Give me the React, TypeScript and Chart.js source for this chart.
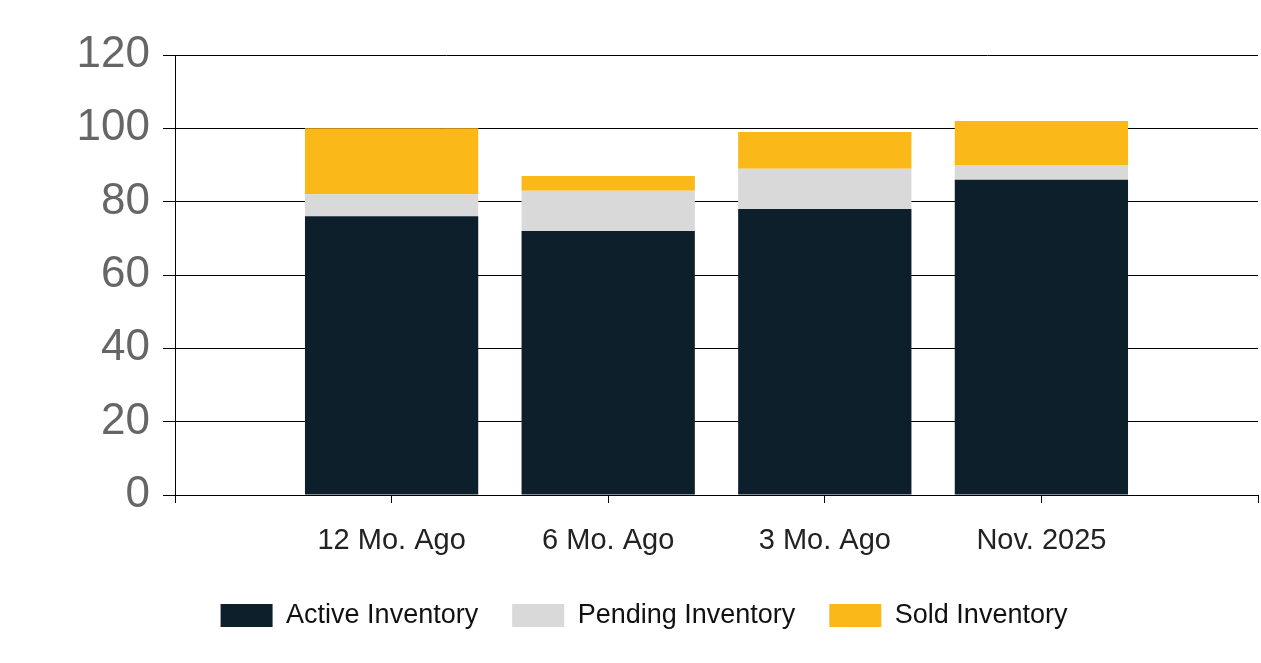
import React, { useEffect, useRef } from "react";
import { Chart, registerables } from "chart.js";

Chart.register(...registerables);

const categories = ["12 Mo. Ago", "6 Mo. Ago", "3 Mo. Ago", "Nov. 2025"];
const activeInventory = [76, 72, 78, 86];
const pendingInventory = [6, 11, 11, 4];
const soldInventory = [18, 4, 10, 12];
const yTicks = [0, 20, 40, 60, 80, 100, 120];

const FONT = "'Liberation Sans', Arial, sans-serif";

export default function App() {
  const ref = useRef<HTMLCanvasElement | null>(null);

  useEffect(() => {
    if (!ref.current) return;
    const pad = (arr: number[]) => [null, ...arr, null];
    const labels = ["", ...categories, ""];
    const chart = new Chart(ref.current, {
      type: "bar",
      data: {
        labels,
        datasets: [
          { label: "Active Inventory", data: pad(activeInventory), backgroundColor: "#0C1F2B" },
          { label: "Pending Inventory", data: pad(pendingInventory), backgroundColor: "#D9D9D9" },
          { label: "Sold Inventory", data: pad(soldInventory), backgroundColor: "#FBB819" },
        ],
      },
      options: {
        responsive: false,
        animation: false,
        devicePixelRatio: 1,
        layout: { padding: { left: 30, right: 3, top: 55, bottom: 24 } },
        datasets: { bar: { categoryPercentage: 0.8, barPercentage: 1 } },
        scales: {
          x: {
            stacked: true,
            offset: false,
            afterFit: (s: any) => {
              s.paddingLeft = 0;
              s.paddingRight = 0;
              s.height = 73;
            },
            grid: {
              offset: false,
              drawOnChartArea: false,
              drawTicks: true,
              tickLength: 8,
              color: "#000",
              lineWidth: 1,
            },
            border: { display: true, color: "#000", width: 1 },
            ticks: {
              color: "#222222",
              padding: 21,
              maxRotation: 0,
              autoSkip: false,
              font: { family: FONT, size: 29 },
            },
          },
          y: {
            stacked: true,
            min: 0,
            max: 120,
            afterFit: (s: any) => {
              s.width = 145;
            },
            afterBuildTicks: (s: any) => {
              s.ticks = yTicks.map((v) => ({ value: v }));
            },
            grid: {
              color: "#000",
              lineWidth: 1,
              drawTicks: true,
              tickLength: 12,
            },
            border: { display: true, color: "#000", width: 1 },
            ticks: {
              color: "#666666",
              padding: 13,
              font: { family: FONT, size: 44 },
            },
          },
        },
        plugins: {
          legend: {
            position: "bottom",
            labels: {
              boxWidth: 52,
              boxHeight: 23,
              padding: 34,
              color: "#111111",
              font: { family: FONT, size: 27 },
            },
          },
          tooltip: { enabled: false },
        },
      },
    });
    return () => chart.destroy();
  }, []);

  return (
    <div style={{ position: "absolute", left: 0, top: 0, width: 1261, height: 663, background: "#fff" }}>
      <canvas ref={ref} width={1261} height={663} style={{ display: "block" }} />
    </div>
  );
}
